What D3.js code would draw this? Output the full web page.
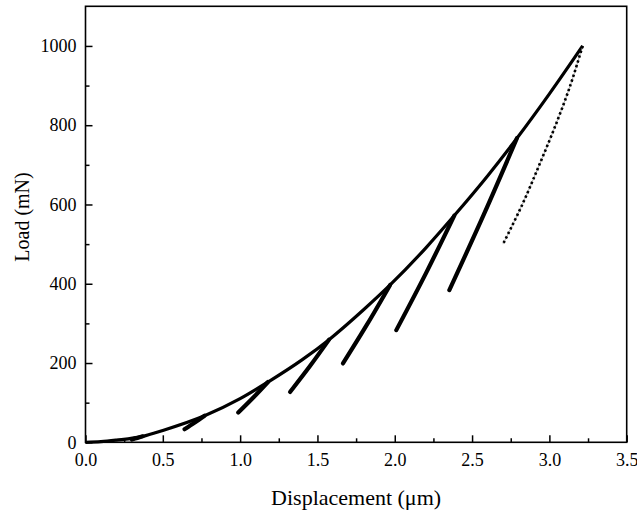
<!DOCTYPE html>
<html>
<head>
<meta charset="utf-8">
<script src="https://cdn.jsdelivr.net/npm/d3@7"></script>
<style>
  body { margin: 0; background: #fff; }
  svg text { font-family: "Liberation Serif", "Times New Roman", serif; fill: #000; }
  .axis path, .axis line { stroke: #000; }
</style>
</head>
<body>
<div id="chart"></div>
<script>
// loading curve (displacement in um, load in mN)
var loadD = [0, 0.1, 0.2, 0.37, 0.5, 0.77, 1.0, 1.18, 1.4, 1.575, 1.8, 1.97, 2.2, 2.385, 2.6, 2.79, 3.0, 3.215];
var loadL = [0, 1.5, 5.5, 15, 30, 67, 110, 152, 208, 259, 335, 397, 490, 572, 672, 767, 879, 1000];

// partial unloading segments: peak -> mid -> end
var unloadD = [
  [0.37, 0.336, 0.30],
  [0.77, 0.707, 0.64],
  [1.18, 1.087, 0.988],
  [1.575, 1.453, 1.323],
  [1.97, 1.822, 1.665],
  [2.385, 2.203, 2.01],
  [2.79, 2.577, 2.353]
];
var unloadL = [
  [15, 11, 7],
  [67, 50, 33],
  [152, 113.5, 75],
  [259, 193, 127],
  [397, 298, 199],
  [572, 427.5, 283],
  [767, 575.5, 384]
];

// final unloading (dotted)
var finalD = [3.215, 3.135, 3.04, 2.935, 2.825, 2.70];
var finalL = [1000, 900, 800, 700, 600, 500];

var xTicks = [0, 0.5, 1.0, 1.5, 2.0, 2.5, 3.0, 3.5];
var yTicks = [0, 200, 400, 600, 800, 1000];

var W = 637, H = 516;
var x = d3.scaleLinear().domain([0, 3.5]).range([85.5, 626.7]);
var y = d3.scaleLinear().domain([0, 1100]).range([442.3, 6.3]);

var svg = d3.select("#chart").append("svg").attr("width", W).attr("height", H);

// minor ticks
svg.append("g").attr("class", "axis")
  .attr("transform", "translate(0," + y(0) + ")")
  .call(d3.axisBottom(x).tickValues(d3.range(0.25, 3.5, 0.5)).tickSizeInner(-4).tickSizeOuter(0).tickFormat(""))
  .call(function(g){ g.select(".domain").remove(); g.selectAll("line").attr("stroke-width", 1.5); });
svg.append("g").attr("class", "axis")
  .attr("transform", "translate(" + x(0) + ",0)")
  .call(d3.axisLeft(y).tickValues([100, 300, 500, 700, 900]).tickSizeInner(-4).tickSizeOuter(0).tickFormat(""))
  .call(function(g){ g.select(".domain").remove(); g.selectAll("line").attr("stroke-width", 1.5); });

// major ticks + labels
var xAxis = svg.append("g").attr("class", "axis")
  .attr("transform", "translate(0," + y(0) + ")")
  .call(d3.axisBottom(x).tickValues(xTicks).tickSizeInner(-7).tickSizeOuter(0).tickPadding(11).tickFormat(d3.format(".1f")));
xAxis.select(".domain").remove();
xAxis.selectAll("line").attr("stroke-width", 1.5);
xAxis.selectAll("text").style("font-size", "18px").style("font-family", "'Liberation Serif', serif").attr("fill", "#000");

var yAxis = svg.append("g").attr("class", "axis")
  .attr("transform", "translate(" + x(0) + ",0)")
  .call(d3.axisLeft(y).tickValues(yTicks).tickSizeInner(-7).tickSizeOuter(0).tickPadding(9).tickFormat(d3.format("d")));
yAxis.select(".domain").remove();
yAxis.selectAll("line").attr("stroke-width", 1.5);
yAxis.selectAll("text").style("font-size", "18px").style("font-family", "'Liberation Serif', serif").attr("fill", "#000");

// frame
svg.append("rect")
  .attr("x", x(0)).attr("y", y(1100))
  .attr("width", x(3.5) - x(0)).attr("height", y(0) - y(1100))
  .attr("fill", "none").attr("stroke", "#000").attr("stroke-width", 1.6);

// curves
var line = d3.line().x(function(d){ return x(d[0]); }).y(function(d){ return y(d[1]); });

var loadPts = loadD.map(function(d, i){ return [d, loadL[i]]; });
svg.append("path").datum(loadPts)
  .attr("d", line.curve(d3.curveMonotoneX))
  .attr("fill", "none").attr("stroke", "#000").attr("stroke-width", 3.2);

unloadD.forEach(function(seg, k){
  var pts = seg.map(function(d, i){ return [d, unloadL[k][i]]; });
  svg.append("path").datum(pts)
    .attr("d", line.curve(d3.curveCatmullRom))
    .attr("fill", "none").attr("stroke", "#000").attr("stroke-width", 4.2)
    .attr("stroke-linecap", "round");
});

var finalPts = finalD.map(function(d, i){ return [d, finalL[i]]; });
svg.append("path").datum(finalPts)
  .attr("d", line.curve(d3.curveCatmullRom))
  .attr("fill", "none").attr("stroke", "#888").attr("stroke-width", 0.7);
svg.append("path").datum(finalPts)
  .attr("d", line.curve(d3.curveCatmullRom))
  .attr("fill", "none").attr("stroke", "#000").attr("stroke-width", 2.6)
  .attr("stroke-dasharray", "2.4,2.6");

// axis titles
svg.append("text")
  .attr("x", (x(0) + x(3.5)) / 2).attr("y", 505)
  .attr("text-anchor", "middle").style("font-size", "22px")
  .text("Displacement (\u03bcm)");
svg.append("text")
  .attr("transform", "translate(29,217) rotate(-90)")
  .attr("text-anchor", "middle").style("font-size", "20px")
  .text("Load (mN)");
</script>
</body>
</html>
